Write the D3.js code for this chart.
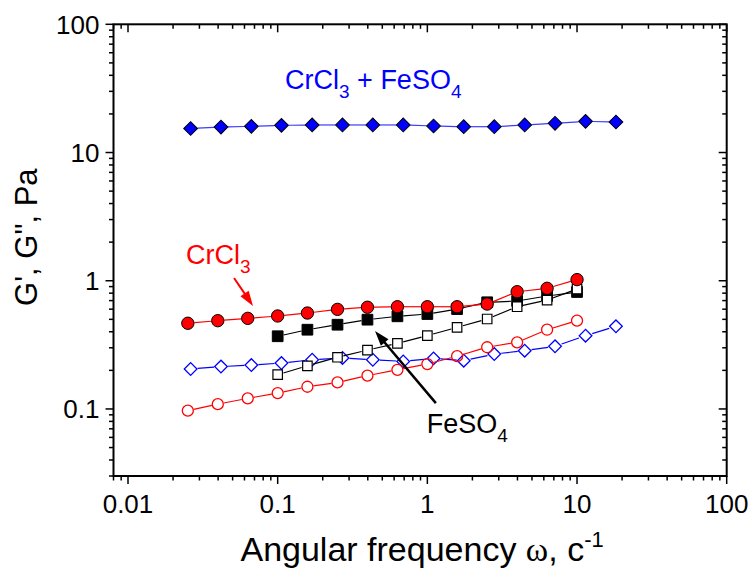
<!DOCTYPE html>
<html>
<head>
<meta charset="utf-8">
<script src="https://cdn.jsdelivr.net/npm/d3@7"></script>
<style>
  body { margin: 0; background: #fff; }
  text { font-family: Arial, "Liberation Sans", sans-serif; }
</style>
</head>
<body>
<div id="chart"></div>
<script>
// frequencies, rad/s
var freqRed = [0.0251, 0.0398, 0.0631, 0.1, 0.158, 0.251, 0.398, 0.631, 1, 1.58, 2.51, 3.98, 6.31, 10];
var freqBlack = [0.1, 0.158, 0.251, 0.398, 0.631, 1, 1.58, 2.51, 3.98, 6.31, 10];
var freqBlue = [0.0262, 0.0418, 0.0667, 0.106, 0.170, 0.271, 0.432, 0.690, 1.10, 1.75, 2.80, 4.47, 7.13, 11.4, 18.2];

// moduli, Pa
var crGp  = [0.466, 0.488, 0.509, 0.531, 0.560, 0.598, 0.621, 0.627, 0.627, 0.627, 0.658, 0.821, 0.873, 1.02];
var crGpp = [0.097, 0.109, 0.121, 0.133, 0.149, 0.161, 0.182, 0.202, 0.224, 0.258, 0.303, 0.331, 0.415, 0.488];
var feGp  = [0.369, 0.415, 0.454, 0.497, 0.528, 0.550, 0.601, 0.679, 0.695, 0.760, 0.817];
var feGpp = [0.185, 0.217, 0.253, 0.288, 0.325, 0.373, 0.433, 0.503, 0.627, 0.707, 0.862];
var mixGp  = [15.4, 15.8, 16.0, 16.3, 16.4, 16.4, 16.4, 16.4, 16.1, 15.9, 15.9, 16.4, 16.9, 17.5, 17.3];
var mixGpp = [0.205, 0.214, 0.220, 0.228, 0.242, 0.250, 0.242, 0.235, 0.248, 0.238, 0.268, 0.285, 0.308, 0.373, 0.441];

var xTicks = [0.01, 0.1, 1, 10, 100];
var xTickLabels = ["0.01", "0.1", "1", "10", "100"];
var yTicks = [0.1, 1, 10, 100];
var yTickLabels = ["0.1", "1", "10", "100"];

var width = 753, height = 569;
var margin = {left: 113.5, right: 26.3, top: 24.3, bottom: 93};

var x = d3.scaleLog().domain([0.008, 100]).range([margin.left, width - margin.right]);
var y = d3.scaleLog().domain([0.03, 100]).range([height - margin.bottom, margin.top]);

var svg = d3.select("#chart").append("svg")
    .attr("width", width)
    .attr("height", height);

var x0 = x.range()[0], x1 = x.range()[1], y0 = y.range()[0], y1 = y.range()[1];

// minor ticks
function minorTicks(scale) {
    var d = scale.domain(), out = [];
    for (var e = -3; e <= 2; e++) {
        for (var m = 1; m < 10; m++) {
            var v = m * Math.pow(10, e);
            if (v >= d[0] * 0.999 && v <= d[1] * 1.001) out.push({v: v, major: m === 1});
        }
    }
    return out;
}

var axes = svg.append("g").attr("stroke", "#000").attr("fill", "none");
var majorLen = 8, minorLen = 4.5;

minorTicks(x).forEach(function (t) {
    var len = t.major ? majorLen : minorLen;
    var px = x(t.v);
    axes.append("line").attr("x1", px).attr("x2", px).attr("y1", y0).attr("y2", y0 + len).attr("stroke-width", 1.5);
    axes.append("line").attr("x1", px).attr("x2", px).attr("y1", y1).attr("y2", y1 + len).attr("stroke-width", 1.5);
});
minorTicks(y).forEach(function (t) {
    var len = t.major ? majorLen : minorLen;
    var py = y(t.v);
    axes.append("line").attr("y1", py).attr("y2", py).attr("x1", x0).attr("x2", x0 - len).attr("stroke-width", 1.5);
    axes.append("line").attr("y1", py).attr("y2", py).attr("x1", x1).attr("x2", x1 - len).attr("stroke-width", 1.5);
});

axes.append("rect")
    .attr("x", x0).attr("y", y1)
    .attr("width", x1 - x0).attr("height", y0 - y1)
    .attr("stroke-width", 2);

svg.append("g").selectAll("text")
    .data(xTicks)
    .enter().append("text")
    .attr("x", function (d) { return x(d); })
    .attr("y", y0 + 37)
    .attr("text-anchor", "middle")
    .style("font-size", "26px")
    .text(function (d, i) { return xTickLabels[i]; });

svg.append("g").selectAll("text")
    .data(yTicks)
    .enter().append("text")
    .attr("x", x0 - 14)
    .attr("y", function (d) { return y(d) + 9.5; })
    .attr("text-anchor", "end")
    .style("font-size", "26px")
    .text(function (d, i) { return yTickLabels[i]; });

// axis titles
var xt = svg.append("text")
    .attr("x", (x0 + x1) / 2 + 2)
    .attr("y", 561)
    .attr("text-anchor", "middle")
    .style("font-size", "34px");
xt.append("tspan").text("Angular frequency ");
xt.append("tspan").style("font-family", "'Liberation Serif', 'Times New Roman', serif").text("ω");
xt.append("tspan").text(", c");
xt.append("tspan").attr("dy", -14).style("font-size", "22px").text("-1");

svg.append("text")
    .attr("transform", "translate(37," + ((y0 + y1) / 2 - 13) + ") rotate(-90)")
    .attr("text-anchor", "middle")
    .style("font-size", "31px")
    .text("G', G\", Pa");

// series
function series(xs, ys, opt) {
    var pts = xs.map(function (d, i) { return [x(d), y(ys[i])]; });
    var g = svg.append("g");
    var gap = opt.gap;
    for (var i = 0; i < pts.length - 1; i++) {
        var a = pts[i], b = pts[i + 1];
        var dx = b[0] - a[0], dy = b[1] - a[1], L = Math.sqrt(dx * dx + dy * dy);
        if (L <= 2 * gap) continue;
        var ux = dx / L, uy = dy / L;
        g.append("line")
            .attr("x1", a[0] + ux * gap).attr("y1", a[1] + uy * gap)
            .attr("x2", b[0] - ux * gap).attr("y2", b[1] - uy * gap)
            .attr("stroke", opt.line)
            .attr("stroke-width", 1.2);
    }
    var sym = d3.symbol().type(opt.type).size(opt.size);
    g.selectAll("path.m")
        .data(pts)
        .enter().append("path")
        .attr("class", "m")
        .attr("d", sym)
        .attr("transform", function (d) {
            return "translate(" + d[0] + "," + d[1] + ")" + (opt.rotate ? " rotate(45)" : "");
        })
        .attr("fill", opt.fill)
        .attr("stroke", opt.stroke)
        .attr("stroke-width", opt.sw);
}

series(freqBlue, mixGpp, {type: d3.symbolSquare, rotate: true, size: 80, fill: "none", stroke: "#0000ff", sw: 1.3, line: "#0000ff", gap: 7});
series(freqRed, crGpp, {type: d3.symbolCircle, size: 95, fill: "none", stroke: "#ff0000", sw: 1.3, line: "#ff0000", gap: 6});
series(freqBlack, feGp, {type: d3.symbolSquare, size: 115, fill: "#000", stroke: "#000", sw: 1, line: "#000", gap: 6});
series(freqBlack, feGpp, {type: d3.symbolSquare, size: 90, fill: "#fff", stroke: "#000", sw: 1.2, line: "#000", gap: 6});
series(freqRed, crGp, {type: d3.symbolCircle, size: 120, fill: "#ff0000", stroke: "#000", sw: 1, line: "#ff0000", gap: 6.5});
series(freqBlue, mixGp, {type: d3.symbolSquare, rotate: true, size: 95, fill: "#0000ff", stroke: "#000", sw: 1, line: "#3b3bff", gap: 7});

// annotations
function arrow(from, to, color, w) {
    var a = [x(from[0]), y(from[1])], b = [x(to[0]), y(to[1])];
    var dx = b[0] - a[0], dy = b[1] - a[1], L = Math.sqrt(dx * dx + dy * dy);
    var ux = dx / L, uy = dy / L, hl = 15, hw = 5;
    var base = [b[0] - ux * hl, b[1] - uy * hl];
    svg.append("line")
        .attr("x1", a[0]).attr("y1", a[1])
        .attr("x2", base[0] + ux * 2).attr("y2", base[1] + uy * 2)
        .attr("stroke", color).attr("stroke-width", w);
    svg.append("path")
        .attr("d", "M" + b[0] + "," + b[1] +
            "L" + (base[0] - uy * hw) + "," + (base[1] + ux * hw) +
            "L" + (base[0] + uy * hw) + "," + (base[1] - ux * hw) + "Z")
        .attr("fill", color);
}

function label(px, py, parts, color) {
    var t = svg.append("text")
        .attr("x", x(px)).attr("y", y(py))
        .attr("fill", color)
        .style("font-size", "27px");
    parts.forEach(function (p) {
        var s = t.append("tspan").text(p[0]);
        if (p[1] === "sub") s.attr("dy", 9).style("font-size", "19px");
        if (p[1] === "up") s.attr("dy", -9);
    });
}

label(0.112, 31.1, [["CrCl"], ["3", "sub"], [" + FeSO", "up"], ["4", "sub"]], "#0000ff");
label(0.0244, 1.35, [["CrCl"], ["3", "sub"]], "#ff0000");
label(0.99, 0.0649, [["FeSO"], ["4", "sub"]], "#000");

arrow([0.0511, 1.05], [0.0684, 0.636], "#ff0000", 2);
arrow([1.14, 0.111], [0.447, 0.405], "#000", 2.5);
</script>
</body>
</html>
